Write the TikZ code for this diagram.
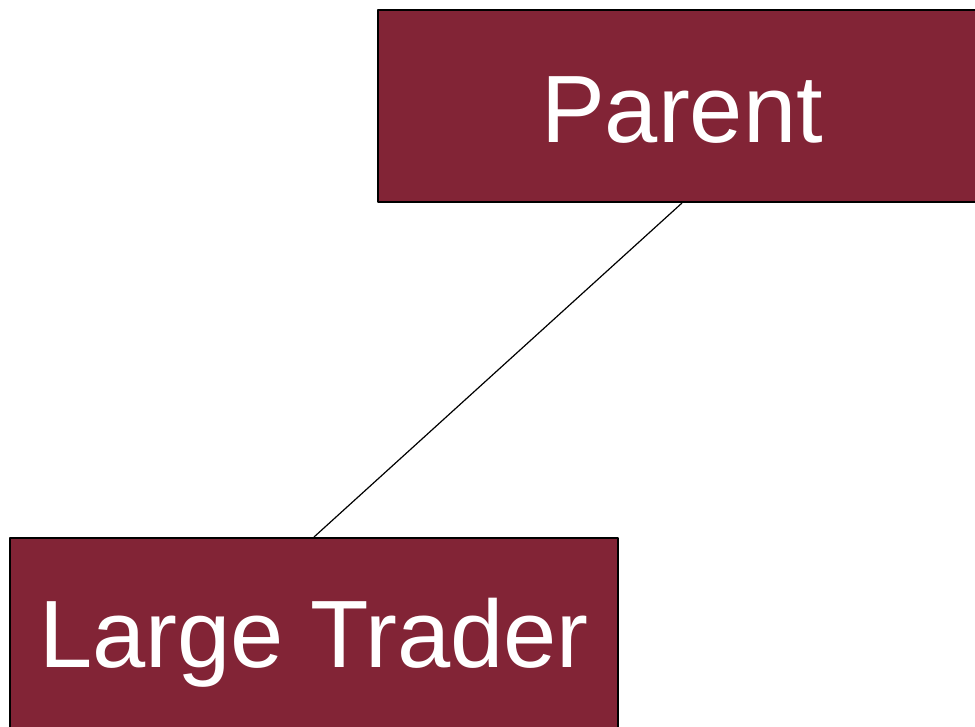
\documentclass[tikz,border=0pt]{standalone}
\usepackage{fontspec}
\setmainfont{Liberation Sans}
\usetikzlibrary{positioning}
\definecolor{maroon}{RGB}{130,36,54}

\begin{document}
\begin{tikzpicture}[
		x=1pt, y=-1pt,
		line join=round,
		entity/.style={draw=black, line width=2pt, fill=maroon, text=white,
				minimum width=608pt, minimum height=192pt, inner sep=0pt,
				font=\fontsize{95.7}{100}\selectfont,
				text height=66pt, text depth=0pt}
	]
	\useasboundingbox (0,0) rectangle (975,726);
	\clip (0,0) rectangle (975,726);

	% Boxes
	\node[entity, text height=73pt] (parent) at (682,106) {Parent};
	\node[entity] (trader) at (314,634) {Large Trader};

	% Link
	\draw[line width=1.2pt] (parent.south) -- (trader.north);
\end{tikzpicture}
\end{document}
